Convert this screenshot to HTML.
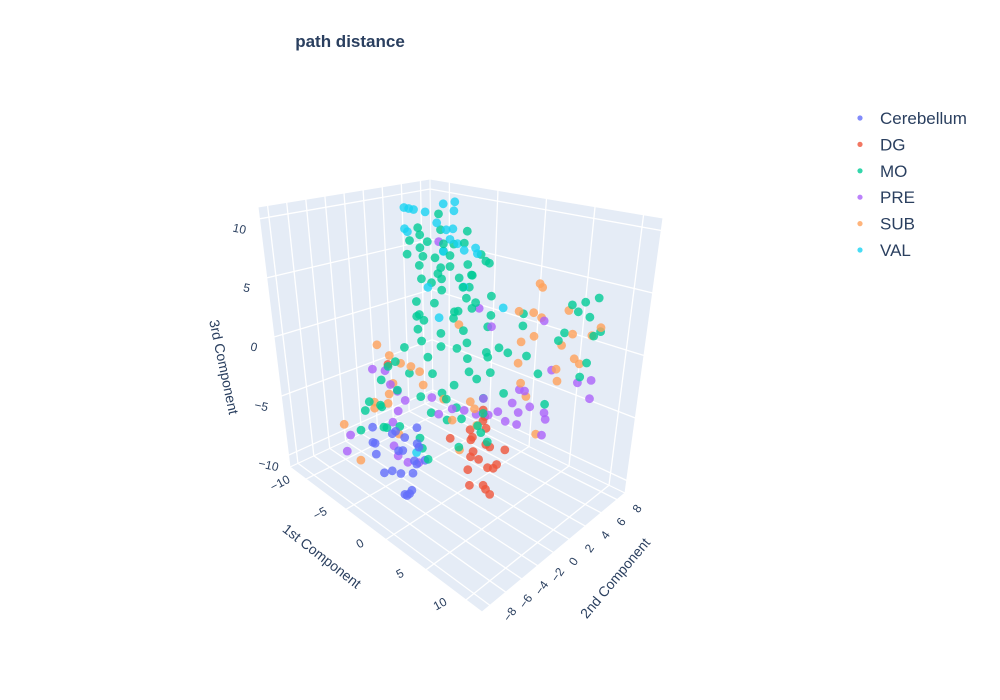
<!DOCTYPE html>
<html>
<head>
<meta charset="utf-8">
<style>
  html,body{margin:0;padding:0;background:#fff;}
  svg{display:block;font-family:"Liberation Sans",sans-serif;}
</style>
</head>
<body>
<svg id="chart" width="1000" height="700" viewBox="0 0 1000 700">
  <rect x="0" y="0" width="1000" height="700" fill="#ffffff"/>
  <text x="350" y="47" text-anchor="middle" font-size="17" font-weight="bold" fill="#2a3f5f">path distance</text>
  <g id="scene"></g>
  <g id="legend"></g>
</svg>
<script>
// ---------- data (x = 1st, y = 2nd, z = 3rd component) ----------
const groupNames = ["Cerebellum","DG","MO","PRE","SUB","VAL"];
const groupColors = ["#636efa","#EF553B","#00cc96","#ab63fa","#FFA15A","#19d3f3"];

const cerebellumX = [-6.7,-7.2,-6,-4.3,-3.4,-2.6,-1.4,-1,-1.9,-3.1,-1.9,-4.8,-2.4,-3.1,-5.3,-6.7,-3.6,-1.2,-0.5,-1.4,-4.1,-2.6,-2.2];
const cerebellumY = [-3.6,-3.2,-4,-3.6,-3.3,-3.8,-3.5,-3.7,-3.4,-3.9,-3.6,-3.3,-3.6,-3.5,-3.8,-3.4,-3.6,-3.7,-3.5,-3.6,-3.4,-3.7,-3.5];
const cerebellumZ = [-7,-8.6,-8.8,-6.6,-7.7,-6.2,-5.1,-6.4,-7.9,-9.2,-8.8,-9.9,-10.6,-11,-10.1,-8.4,-7.7,-6.2,-7.3,-7.9,-6.4,-10.8,-10.3];

const dgX = [-11,-3.4,-1.4,-1,0.2,0.7,-0.5,1,-1,-0.2,-1.2,1,1.9,0,1.4,3.1,3.1,0.2,0.5,1.7,-1.2,1,1.7];
const dgY = [2.7,2.5,2.9,2.6,2.8,2.7,2.4,2.9,2.6,2.8,2.5,2.7,2.9,1.5,1.8,0.9,2.6,2.8,2.7,1.8,3.0,2.4,2.7];
const dgZ = [-5.1,-8.8,-7.5,-8.1,-6.2,-6.6,-8.8,-8.1,-9.5,-9.5,-10.6,-9.7,-9.2,-11,-10.6,-10.3,-7.5,-5.3,-5.7,-10.8,-8.1,-7.7,-9.5];

const moX = [-5.3,-3.1,-0.5,2.2,-2.2,1.2,0.2,-4.3,-4.8,-1, 2.4,4.1,-6.7,-9.1,-3.3,1.4,4.8,-0.5,2.4,-1.4, 2.6,-11.3,-9.6,-11.5,-8.9,-4.6,-3.8,3.6,0.7,-2.4, 1.2,-1.4,-4.1,-0.5,3.4,-5.8,-2.9,-7.9,4.8,1.7, 0.2,-7.2,-3.4,2.6,-0.5,0,-4.5,-2.8,0.5,-1.8, -3.6,1.8,-0.2,-2,3,-5.8,
  8.4,9.6,7.2,7.7,8.9,6.5,9.6,10.1,6,9.1,8.4,3.8,1.9,2.4,4.8,1.7,
  -4.8,-3.9,-2.6,-1.2,0.3,1.5,-3.3,-2,-0.8,0.9, 2,-4.2,-2.7,-1.5,0.4,1.9,3.2,-3.6,-1.1,0.8, 2.9,-5.2,-3,-0.3,1.3,3.8,-2.3,0.1,2.4,-6.2, -4,-8.3,-10.2,-7.5,-5,-1.8,1.1,3.3,-0.7,-3.9];
const moY = [0,0.5,-0.5,1,0.3,-0.8,0.6,-0.4,0.2,-1, 0.8,0.4,-0.6,0,0.3,-0.2,0.7,-0.9,0.5,0.1, -0.3,0,0.4,-0.5,0.2,0,0.6,-0.7,0.3,0.2, -0.4,0.8,-0.2,0.5,-0.6,0.1,0.9,-0.3,0.4,-0.8, 0.2,0,-0.5,0.7,-0.1,-3.6,0.3,-0.6,0.4,-0.2, 0.6,-0.4,0.1,-0.7,0.5,0.2,
  5.4,5.6,5.2,5.4,5.5,5.3,5.4,5.6,5.2,5.4,5.5,5.4,5.3,5.4,5.4,5.5,
  0.4,-0.3,0.6,-0.5,0.2,0.8,-0.6,0.3,-0.2,0.5, -0.7,0.1,0.4,-0.4,0.7,-0.1,0.3,-0.8,0.6,-0.3, 0.2,0.5,-0.5,0.1,0.8,-0.2,0.4,-0.6,0.3,0, -0.4,-1,-0.5,-1.5,-2,-2.5,-1,0.2,0.5,-0.3];
const moZ = [8.1,7.0,7.9,7.5,5.5,5.8,4.4,3.3,0.7,1.7, 2.6,1.5,-2.4,-5,-2.6,-0.9,1.2,-3.4,-2.9,-5.7, -4.7,-8.6,-7.7,-10.3,-9.2,-8.3,-6.1,-3.3,-0.2,10.8, 10.1,8.4,6.3,5.9,8.2,-3.3,-0.4,-3.3,-1.8,1.6, -5.1,-5.2,2,0.3,2.8,-7,7.6,8.6,7.2,6.6, 4.8,4.2,3.4,3.8,5.2,6.8,
  4.6,5.1,4.2,3.7,3.5,1.8,2.2,2.6,1.1,0,-1.3,-2.2,1.3,-1.1,-4.4,2.2,
  9.2,8.9,9.4,8.7,8.9,8.1,7.3,7.8,6.9,6.4, 6.9,5.1,5.8,4.9,5.3,4.6,3.8,2.5,3,2.2, 0.9,1.6,-0.9,0.4,-1.8,-0.3,-3.9,-2.2,-5.5,-1.2, -4.5,-6.6,-7.2,-8,-6.8,-7.2,-6.6,-5.9,-4.6,0.1];

const preX = [-10.1,-8.9,-7.7,-7.2,-6.5,-7.2,-7.7,-7.9,-10.8,-11.5,-3.1,-2.6,-0.5,0.7,1.9,2.9,3.8,4.6,5.3,6.2,2.2,-2.2,3.6,-7.2,-6.2,-5,
  4.1,5.3,9.6,9.8,8.2,1.9,2.4,4.8,4.8,3.1,1.9,1.7,4.6];
const preY = [0,0.3,-0.3,0,0.2,0,-0.2,0,-3,-1.8,0,0.3,-0.2,0,0.2,0,-0.3,0,0.2,0,0,0,0,-0.2,0,0.2,
  5.4,5.4,5.6,5.4,5.5,5.3,5.4,5.4,5.6,5.4,5.3,5.4,5.5];
const preZ = [-4.4,-4.2,-4.8,-5.3,-5.9,-7,-8.1,-10.3,-11,-10.3,-4.4,-5.7,-4.4,-4.2,-4.2,-2.6,-3.5,-3.1,-3.7,-2,4.2,8.6,3.1,-10.8,-11,-10.6,
  2.2,-1.5,-1.3,-2.6,-1.8,-4,-4,-5.1,-5.7,-5.1,-5.9,-7,-7];

const subX = [-9.4,-8.2,-6.5,-5.5,-4.8,-7.7,-7.9,-8.4,-10.3,-10.1,-12,-7.2,-9.1,-4.1,-1.9,0,-0.5,1.9,1.9,0.2,1.4,
  3.4,3.6,1.4,2.9,3.8,6.5,3.1,1.9,6.2,7.2,9.4,10.1,7.7,8.4,5.8,6,1.4,1.9,4.1,2.6];
const subY = [0,0.2,-0.2,0,0.3,0,-0.3,0,0.2,0,-2,0,-3,0,0.2,0,-0.2,0,0.3,0,0,
  5.4,5.5,5.3,5.4,5.4,5.6,5.4,5.2,5.4,5.5,5.4,5.6,5.4,5.3,5.4,5.4,5.5,5.4,5.3,5.4];
const subZ = [-2,-2.6,-2.6,-2.6,-2.9,-4.8,-5.7,-6.8,-7.5,-7.9,-9.5,-9,-11,-3.7,-4.2,2.4,-5.3,-3.7,-5.1,-7.5,-3.3,
  5.1,4.8,2.4,2.6,2.4,3.5,0.7,0,0.7,1.8,2.2,2.9,0,-0.2,-1.3,-2.2,-2,-3.5,-7,-4.4];

const valX = [-5.8,-5.3,-4.8,-3.6,-4.8,-4.1,-2.4,-2.4,-0.7,-1.4,-5.8,-5.5,-1,-0.2,-1.7,0.5,1.7,1.9,-3.4,0.5,-2.2,4.8,-1.4];
const valY = [0,0,0,0,3.1,3.6,1.8,0,0,0,0,0,0,0,0,0,0,0,0,0,0,0,-3.6];
const valZ = [10.8,10.8,10.8,10.8,10.8,11,10.8,10.1,9.9,9.7,9,8.8,9,8.8,7.9,8.4,8.8,8.4,4.6,5.5,2.4,4.8,-7];

const xTicks = [-10,-5,0,5,10];
const yTicks = [-8,-6,-4,-2,0,2,4,6,8];
const zTicks = [-10,-5,0,5,10];

// ---------- scene geometry ----------
const xRange=[-12,12], yRange=[-9,9], zRange=[-11,11];
const C = {
  "000":[290,467],"100":[482,612],"110":[625,493],"010":[433,400],
  "001":[258,207],"101":[488,262],"111":[663,218],"011":[430,179]
};
function lerp(a,b,t){return [a[0]+(b[0]-a[0])*t, a[1]+(b[1]-a[1])*t];}
function projUVW(u,v,w){
  const f0 = lerp(lerp(C["000"],C["100"],u), lerp(C["010"],C["110"],u), v);
  const f1 = lerp(lerp(C["001"],C["101"],u), lerp(C["011"],C["111"],u), v);
  return lerp(f0,f1,w);
}
function nx(x){return (x-xRange[0])/(xRange[1]-xRange[0]);}
function ny(y){return (y-yRange[0])/(yRange[1]-yRange[0]);}
function nz(z){return (z-zRange[0])/(zRange[1]-zRange[0]);}
function proj(x,y,z){return projUVW(nx(x),ny(y),nz(z));}

const NS="http://www.w3.org/2000/svg";
const scene=document.getElementById('scene');
function mk(tag,attrs,parent){const e=document.createElementNS(NS,tag);for(const k in attrs)e.setAttribute(k,attrs[k]);(parent||scene).appendChild(e);return e;}
function poly(pts){return pts.map(p=>p[0].toFixed(1)+','+p[1].toFixed(1)).join(' ');}

const walls=[
  ["floor-plane",[[0,0,0],[1,0,0],[1,1,0],[0,1,0]]],
  ["left-wall",[[0,0,0],[0,1,0],[0,1,1],[0,0,1]]],
  ["right-wall",[[0,1,0],[1,1,0],[1,1,1],[0,1,1]]]
];
walls.forEach(w=>{
  const p=mk('polygon',{points:poly(w[1].map(c=>projUVW(c[0],c[1],c[2]))),fill:'#e5ecf6',stroke:'#ffffff','stroke-width':1});
  
  
});
function gline(a,b,name){
  const l=mk('line',{x1:a[0],y1:a[1],x2:b[0],y2:b[1],stroke:'#ffffff','stroke-width':1.3});
  
  
}
xTicks.forEach(t=>{gline(projUVW(nx(t),0,0),projUVW(nx(t),1,0),'floor-gridline-x');});
yTicks.forEach(t=>{gline(projUVW(0,ny(t),0),projUVW(1,ny(t),0),'floor-gridline-y');});
yTicks.forEach(t=>{gline(projUVW(0,ny(t),0),projUVW(0,ny(t),1),'left-wall-gridline-y');});
zTicks.forEach(t=>{gline(projUVW(0,0,nz(t)),projUVW(0,1,nz(t)),'left-wall-gridline-z');});
xTicks.forEach(t=>{gline(projUVW(nx(t),1,0),projUVW(nx(t),1,1),'right-wall-gridline-x');});
zTicks.forEach(t=>{gline(projUVW(0,1,nz(t)),projUVW(1,1,nz(t)),'right-wall-gridline-z');});

function label(txt,p,dx,dy,rot,name,size){
  const t=mk('text',{x:0,y:0,'font-size':size||12,fill:'#2a3f5f','text-anchor':'middle','dominant-baseline':'central',
    transform:`translate(${(p[0]+dx).toFixed(1)},${(p[1]+dy).toFixed(1)}) rotate(${rot})`});
  t.textContent=txt;
  
  
}
function fmt(v){return v<0?'\u2212'+Math.abs(v):String(v);}
xTicks.forEach(t=>label(fmt(t),projUVW(nx(t),0,0),-26,4,-28,'x-tick-label'));
yTicks.forEach(t=>label(fmt(t),projUVW(1,ny(t),0),20,9,-55,'y-tick-label'));
zTicks.forEach(t=>label(fmt(t),projUVW(0,0,nz(t)),-20,10,12,'z-tick-label'));
label('1st Component',[322,556],0,0,38,'x-axis-title',14);
label('2nd Component',[615,578],0,0,-50,'y-axis-title',14);
label('3rd Component',[224,367],0,0,78,'z-axis-title',14);

const groupsX=[cerebellumX,dgX,moX,preX,subX,valX];
const groupsY=[cerebellumY,dgY,moY,preY,subY,valY];
const groupsZ=[cerebellumZ,dgZ,moZ,preZ,subZ,valZ];
const pts=[];
groupsX.forEach((xs,g)=>{xs.forEach((x,i)=>{
  const y=groupsY[g][i], z=groupsZ[g][i];
  pts.push({g:g,x:x,y:y,z:z,depth:nx(x)-ny(y)+0.6*nz(z)});
});});
pts.sort((a,b)=>a.depth-b.depth);
const pg=mk('g',{});


pts.forEach(p=>{
  const s=proj(p.x,p.y,p.z);
  const c=mk('circle',{cx:s[0].toFixed(1),cy:s[1].toFixed(1),r:4.4,fill:groupColors[p.g],'fill-opacity':0.8},pg);
  
  
});

const legend=document.getElementById('legend');
groupNames.forEach((n,i)=>{
  const y=118+i*26.4;
  const g=mk('g',{},legend);
  
  
  mk('circle',{cx:860,cy:y,r:2.6,fill:groupColors[i],'fill-opacity':0.8},g);
  const t=mk('text',{x:880,y:y+6,'font-size':17,fill:'#2a3f5f'},g);
  t.textContent=n;
});
</script>
</body>
</html>
